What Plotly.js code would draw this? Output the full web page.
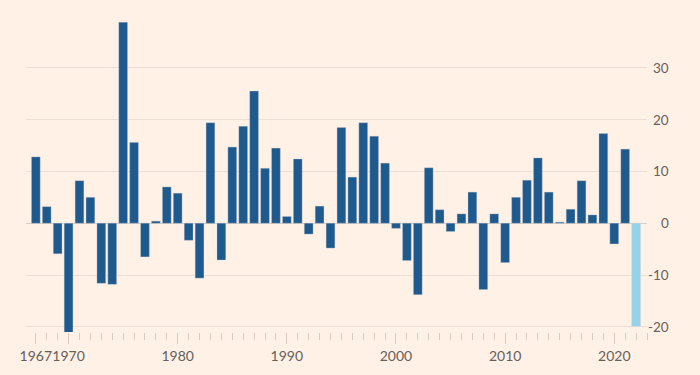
<!DOCTYPE html>
<html>
<head>
<meta charset="utf-8">
<script src="https://cdn.plot.ly/plotly-3.0.1.min.js"></script>
<style>
html,body{margin:0;padding:0;background:#fff1e5;}
#chart{width:700px;height:375px;}
</style>
</head>
<body>
<div id="chart"></div>
<script>
const years = [1967,1968,1969,1970,1971,1972,1973,1974,1975,1976,1977,1978,1979,1980,1981,1982,1983,1984,1985,
  1986,1987,1988,1989,1990,1991,1992,1993,1994,1995,1996,1997,1998,1999,2000,2001,2002,2003,2004,
  2005,2006,2007,2008,2009,2010,2011,2012,2013,2014,2015,2016,2017,2018,2019,2020,2021,2022];
const values = [12.8,3.2,-5.9,-21.5,8.2,5.0,-11.6,-11.8,38.8,15.6,-6.5,0.4,7.0,5.8,-3.3,-10.6,19.4,-7.1,14.7,
  18.7,25.5,10.6,14.5,1.3,12.4,-2.1,3.3,-4.8,18.5,8.9,19.4,16.8,11.6,-1.0,-7.2,-13.8,10.7,2.6,
  -1.6,1.8,6.0,-12.8,1.8,-7.6,5.0,8.3,12.6,6.0,0.2,2.7,8.2,1.6,17.3,-4.0,14.3,-19.9];
const highlightYear = 2022;
const xTickVals = [1967,1970,1980,1990,2000,2010,2020];
const xTickText = ['1967','1970','1980','1990','2000','2010','2020'];
const yTickVals = [-20,-10,0,10,20,30];
const yTickText = ['-20','-10','0','10','20','30'];

const barColor = '#1e5a8e';
const hiColor = '#94d3ea';
const textColor = '#66605c';

const colors = years.map(y => y === highlightYear ? hiColor : barColor);

const trace = {
  type: 'bar',
  x: years,
  y: values,
  marker: {color: colors, line: {color: 'rgba(200,200,210,0.55)', width: 0.6}},
  hoverinfo: 'x+y'
};

const annotations = yTickVals.map((v, i) => ({
  xref: 'paper', yref: 'y', x: 1.0386, y: v,
  xanchor: 'right', yanchor: 'middle',
  text: yTickText[i], showarrow: false,
  font: {family: 'Lato, sans-serif', size: 13.5, color: textColor}
}));

const layout = {
  width: 700, height: 375,
  paper_bgcolor: '#fff1e5',
  plot_bgcolor: '#fff1e5',
  margin: {l: 26, r: 53, t: 16, b: 43, pad: 0},
  bargap: 0.2,
  showlegend: false,
  font: {family: 'Lato, sans-serif', size: 13, color: textColor},
  xaxis: {
    range: [1966.1, 2023],
    tickmode: 'array',
    tickvals: xTickVals,
    ticktext: xTickText,
    tickangle: 0,
    ticks: 'outside',
    ticklen: 11,
    tickwidth: 1,
    tickcolor: '#d8cdc4',
    showgrid: false,
    zeroline: false,
    showline: false,
    minor: {dtick: 1, tick0: 1967, ticks: 'outside', ticklen: 7, tickwidth: 1, tickcolor: '#d8cdc4', showgrid: false},
    tickfont: {family: 'Lato, sans-serif', size: 14, color: textColor},
    fixedrange: true
  },
  yaxis: {
    range: [-21, 40],
    tickmode: 'array',
    tickvals: yTickVals,
    showticklabels: false,
    ticks: '',
    showgrid: true,
    gridcolor: '#ebe0d7',
    gridwidth: 1,
    zeroline: true,
    zerolinecolor: '#d9cec5',
    zerolinewidth: 1,
    showline: false,
    fixedrange: true
  },
  annotations: annotations
};

Plotly.newPlot('chart', [trace], layout, {displayModeBar: false, staticPlot: true});
</script>
</body>
</html>
